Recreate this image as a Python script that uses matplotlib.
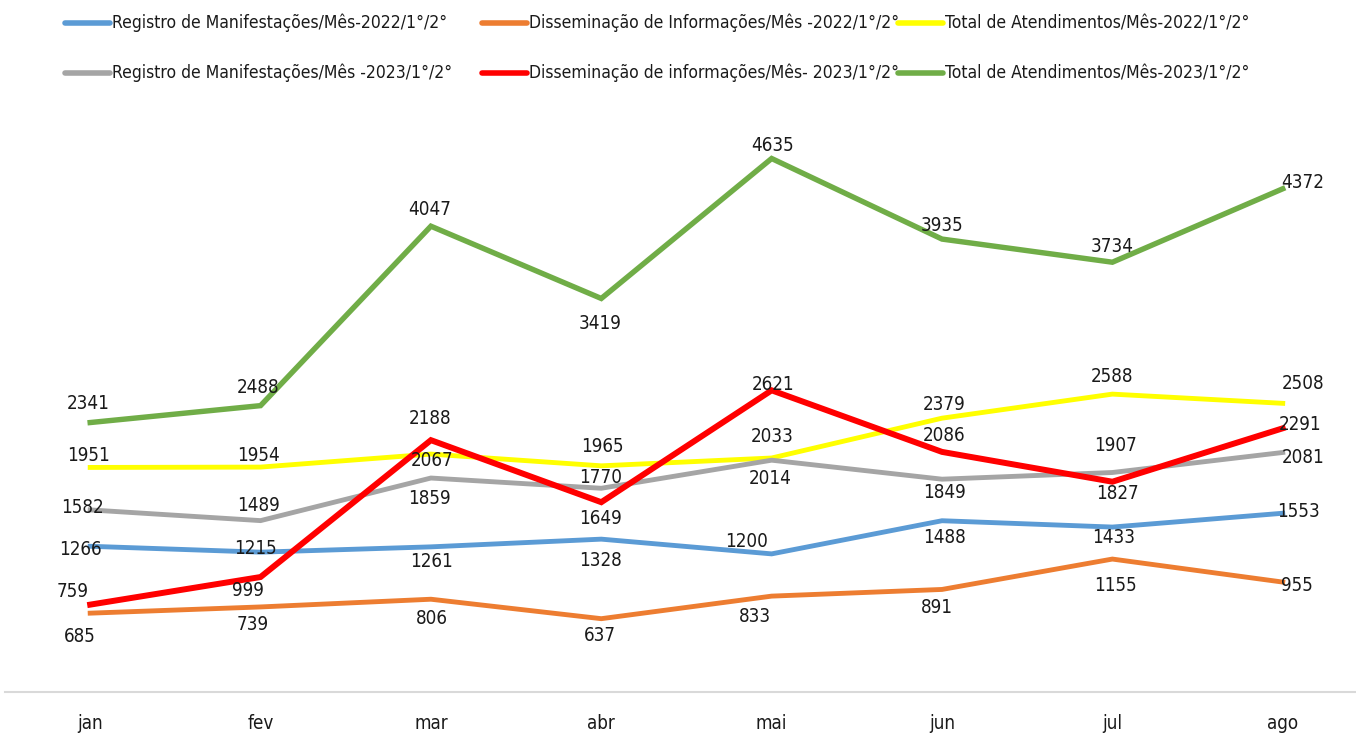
import numpy as np
import matplotlib
matplotlib.use('Agg')
import matplotlib.pyplot as plt
from matplotlib.lines import Line2D

# Data
months = ['jan', 'fev', 'mar', 'abr', 'mai', 'jun', 'jul', 'ago']

reg_2022 = [1266, 1215, 1261, 1328, 1200, 1488, 1433, 1553]
dis_2022 = [685, 739, 806, 637, 833, 891, 1155, 955]
tot_2022 = [1951, 1954, 2067, 1965, 2033, 2379, 2588, 2508]
reg_2023 = [1582, 1489, 1859, 1770, 2014, 1849, 1907, 2081]
dis_2023 = [759, 999, 2188, 1649, 2621, 2086, 1827, 2291]
tot_2023 = [2341, 2488, 4047, 3419, 4635, 3935, 3734, 4372]

plt.rcParams['font.family'] = ['DejaVu Sans']
plt.rcParams['font.stretch'] = 'condensed'

# label offsets in pixels (dx, dy), dy positive = up
off_reg22 = [(-10, -3), (-5, 4), (1, -15), (-1, -21), (-25, 12), (2, -17), (1, -10), (16, 2)]
off_dis22 = [(-10, -23), (-8, -18), (1, -19), (-1, -17), (-17, -20), (-5, -18), (3, -26), (14, -3)]
off_tot22 = [(-2, 12), (-2, 12), (1, -6), (1, 19), (1, 22), (2, 14), (0, 18), (20, 20)]
off_reg23 = [(-8, 2), (-2, 15), (-1, -20), (-1, 11), (-1, -18), (2, -13), (3, 27), (20, -5)]
off_dis23 = [(-18, 13), (-13, -13), (-1, 22), (-1, -16), (1, 6), (2, 16), (5, -12), (17, 4)]
off_tot23 = [(-2, 19), (-2, 18), (-1, 17), (-1, -25), (1, 13), (0, 14), (0, 16), (20, 6)]

series = [
    ('Registro de Manifestações/Mês-2022/1°/2°', reg_2022, '#5B9BD5', 3.5, off_reg22),
    ('Disseminação de Informações/Mês -2022/1°/2°', dis_2022, '#ED7D31', 3.5, off_dis22),
    ('Total de Atendimentos/Mês-2022/1°/2°', tot_2022, '#FFFF00', 3.5, off_tot22),
    ('Registro de Manifestações/Mês -2023/1°/2°', reg_2023, '#A5A5A5', 3.5, off_reg23),
    ('Disseminação de informações/Mês- 2023/1°/2°', dis_2023, '#FF0000', 4.3, off_dis23),
    ('Total de Atendimentos/Mês-2023/1°/2°', tot_2023, '#70AD47', 3.9, off_tot23),
]

W, H = 1356, 735
fig = plt.figure(figsize=(W / 100, H / 100), dpi=100)
ax = fig.add_axes([5 / W, 43 / H, 1351 / W, 575.5 / H])

x = np.arange(len(months))
for label, vals, color, lw, offs in series:
    ax.plot(x, vals, color=color, linewidth=lw, label=label, solid_joinstyle='miter')
    for xi, v, (dx, dy) in zip(x, vals, offs):
        ax.annotate(f'{v}', (xi, v), xytext=(dx, dy), textcoords='offset pixels',
                    ha='center', va='center', fontsize=13.5, color='#1a1a1a')

ax.set_xlim(-0.5, 7.43)
ax.set_ylim(0, 5000)
ax.set_yticks([])
ax.set_xticks(x)
ax.set_xticklabels(months, fontsize=13.5, color='#1a1a1a')
ax.tick_params(axis='x', length=0, pad=16)
for side in ['top', 'right', 'left']:
    ax.spines[side].set_visible(False)
ax.spines['bottom'].set_color('#D9D9D9')
ax.spines['bottom'].set_linewidth(1.5)

# legend drawn by hand: 3 columns x 2 rows
col_x = [65, 482, 898]
row_y = [23, 73]
for i, (label, vals, color, lw, offs) in enumerate(series):
    cx = col_x[i % 3]
    ry = row_y[i // 3]
    fig.add_artist(Line2D([cx / W, (cx + 45) / W], [1 - ry / H, 1 - ry / H],
                          color=color, linewidth=4, solid_capstyle='round'))
    fig.text((cx + 47) / W, 1 - ry / H, label, fontsize=12.6, color='#1a1a1a',
             ha='left', va='center')

plt.savefig('out.png', dpi=100)
